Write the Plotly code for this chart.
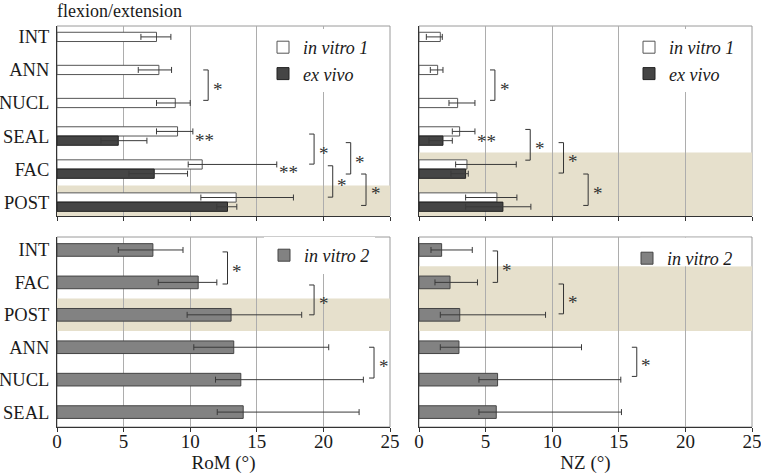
import plotly.graph_objects as go

# ---------------- data ----------------
cats_top = ["INT", "ANN", "NUCL", "SEAL", "FAC", "POST"]
cats_bot = ["INT", "FAC", "POST", "ANN", "NUCL", "SEAL"]

# RoM, top (in vitro 1 / ex vivo)
rom_iv1 = [7.47, 7.65, 8.88, 9.05, 10.9, 13.45]
rom_iv1_lo = [6.3, 6.1, 7.47, 7.47, 9.85, 10.8]
rom_iv1_hi = [8.55, 8.6, 10.0, 10.2, 16.5, 17.75]
rom_ev = [None, None, None, 4.6, 7.3, 12.8]
rom_ev_lo = [None, None, None, 3.3, 5.4, 12.0]
rom_ev_hi = [None, None, None, 6.75, 9.8, 13.5]

# NZ, top (in vitro 1 / ex vivo)
nz_iv1 = [1.6, 1.4, 2.9, 3.05, 3.6, 5.85]
nz_iv1_lo = [0.55, 0.85, 2.25, 2.5, 2.75, 3.5]
nz_iv1_hi = [1.75, 1.8, 4.2, 4.2, 7.3, 7.35]
nz_ev = [None, None, None, 1.8, 3.5, 6.3]
nz_ev_lo = [None, None, None, 0.75, 2.4, 3.5]
nz_ev_hi = [None, None, None, 2.5, 3.7, 8.4]

# in vitro 2 (bottom)
rom_iv2 = [7.2, 10.6, 13.07, 13.27, 13.8, 13.98]
rom_iv2_lo = [4.6, 7.6, 9.77, 10.27, 11.9, 12.03]
rom_iv2_hi = [9.46, 12.0, 18.37, 20.4, 23.0, 22.68]
nz_iv2 = [1.7, 2.33, 3.06, 3.0, 5.9, 5.8]
nz_iv2_lo = [0.9, 1.2, 1.6, 1.6, 4.5, 4.5]
nz_iv2_hi = [4.0, 4.39, 9.5, 12.2, 15.15, 15.2]

x_ticks = [0, 5, 10, 15, 20, 25]

# significance brackets: (x, y_from_index, y_to_index, label)
br_tl = [(11.35, 1.0, 1.92, "*"), (19.3, 2.94, 3.85, "*"), (22.05, 3.2, 4.15, "*"),
         (20.7, 3.9, 4.85, "*"), (23.2, 4.15, 5.1, "*")]
stars_tl = [(11.1, 3.0, "**"), (17.35, 3.97, "**")]
br_tr = [(5.7, 1.0, 1.92, "*"), (8.35, 2.8, 3.73, "*"), (10.85, 3.2, 4.12, "*"),
         (12.7, 4.15, 5.1, "*")]
stars_tr = [(5.05, 3.03, "**")]
br_bl = [(12.8, 0.06, 1.05, "*"), (19.3, 1.08, 2.0, "*"), (23.8, 3.0, 3.95, "*")]
br_br = [(5.9, 0.03, 1.0, "*"), (10.85, 1.05, 1.97, "*"), (16.35, 3.0, 3.9, "*")]

# shaded bands: (from index, to index)
band_tl = (4.5, 5.5)
band_tr = (3.5, 5.5)
band_bl = (1.5, 2.5)
band_br = (0.5, 2.5)

# ---------------- style ----------------
SERIF = "Liberation Serif"
TXT = "#1a1a1a"
W_TOP = 0.28
W_BOT = 0.39
C_WHITE = "white"
C_EV = "#454545"
C_IV2 = "#828282"
BAND = "#e6e0cc"
ERR = "#3a3a3a"


def err(vals, lo, hi):
    plus = [None if v is None else h - v for v, h in zip(vals, hi)]
    minus = [None if v is None else v - l for v, l in zip(vals, lo)]
    return dict(type="data", symmetric=False, array=plus, arrayminus=minus,
                color=ERR, thickness=1, width=3)


fig = go.Figure()

has_ev = [v is not None for v in rom_ev]
off_iv1 = [-W_TOP if h else -W_TOP / 2 for h in has_ev]

panels = [
    ("x", "y", "legend"),
    ("x2", "y2", "legend2"),
    ("x3", "y3", "legend3"),
    ("x4", "y4", "legend4"),
]

# top-left RoM
fig.add_trace(go.Bar(y=cats_top, x=rom_iv1, orientation="h", name="<i>in vitro 1</i>",
                     width=W_TOP, offset=off_iv1, marker=dict(color=C_WHITE, line=dict(color="#555", width=1)),
                     error_x=err(rom_iv1, rom_iv1_lo, rom_iv1_hi), xaxis="x", yaxis="y", legend="legend"))
fig.add_trace(go.Bar(y=cats_top, x=rom_ev, orientation="h", name="<i>ex vivo</i>",
                     width=W_TOP, offset=0, marker=dict(color=C_EV, line=dict(color="#222", width=1)),
                     error_x=err(rom_ev, rom_ev_lo, rom_ev_hi), xaxis="x", yaxis="y", legend="legend"))
# top-right NZ
fig.add_trace(go.Bar(y=cats_top, x=nz_iv1, orientation="h", name="<i>in vitro 1</i>",
                     width=W_TOP, offset=off_iv1, marker=dict(color=C_WHITE, line=dict(color="#555", width=1)),
                     error_x=err(nz_iv1, nz_iv1_lo, nz_iv1_hi), xaxis="x2", yaxis="y2", legend="legend2"))
fig.add_trace(go.Bar(y=cats_top, x=nz_ev, orientation="h", name="<i>ex vivo</i>",
                     width=W_TOP, offset=0, marker=dict(color=C_EV, line=dict(color="#222", width=1)),
                     error_x=err(nz_ev, nz_ev_lo, nz_ev_hi), xaxis="x2", yaxis="y2", legend="legend2"))
# bottom-left RoM in vitro 2
fig.add_trace(go.Bar(y=cats_bot, x=rom_iv2, orientation="h", name="<i>in vitro 2</i>",
                     width=W_BOT, marker=dict(color=C_IV2, line=dict(color="#444", width=1)),
                     error_x=err(rom_iv2, rom_iv2_lo, rom_iv2_hi), xaxis="x3", yaxis="y3", legend="legend3"))
# bottom-right NZ in vitro 2
fig.add_trace(go.Bar(y=cats_bot, x=nz_iv2, orientation="h", name="<i>in vitro 2</i>",
                     width=W_BOT, marker=dict(color=C_IV2, line=dict(color="#444", width=1)),
                     error_x=err(nz_iv2, nz_iv2_lo, nz_iv2_hi), xaxis="x4", yaxis="y4", legend="legend4"))

shapes = []
annotations = []

for (xa, ya, _), band, brs, stars in [
    (panels[0], band_tl, br_tl, stars_tl),
    (panels[1], band_tr, br_tr, stars_tr),
    (panels[2], band_bl, br_bl, []),
    (panels[3], band_br, br_br, []),
]:
    shapes.append(dict(type="rect", xref=xa, yref=ya, x0=0, x1=25, y0=band[0], y1=band[1],
                       fillcolor=BAND, line=dict(width=0), layer="below"))
    shapes.append(dict(type="rect", xref=xa + " domain", yref=ya + " domain", x0=0, x1=1, y0=0, y1=1,
                       line=dict(color="#9a9a9a", width=1), layer="below"))
    for bx, y0, y1, lab in brs:
        for sx0, sx1, sy0, sy1 in [(bx - 0.37, bx, y0, y0), (bx, bx, y0, y1), (bx - 0.37, bx, y1, y1)]:
            shapes.append(dict(type="line", xref=xa, yref=ya, x0=sx0, x1=sx1, y0=sy0, y1=sy1,
                               line=dict(color="#333", width=1), layer="above"))
        annotations.append(dict(x=bx + 0.2, y=(y0 + y1) / 2, xref=xa, yref=ya, text=lab, showarrow=False,
                                xanchor="left", yanchor="middle", yshift=-4,
                                font=dict(family=SERIF, size=19, color="#333333")))
    for sx, sy, lab in stars:
        annotations.append(dict(x=sx, y=sy, xref=xa, yref=ya, text=lab, showarrow=False,
                                xanchor="center", yanchor="middle", yshift=-4,
                                font=dict(family=SERIF, size=19, color="#333333")))

# white patch keeping the 20-gridline hidden behind the bottom-right legend
shapes.append(dict(type="rect", xref="x4", yref="y4", x0=16.6, x1=24.9, y0=-0.38, y1=band_br[0],
                   fillcolor="white", line=dict(width=0), layer="between"))

XD_L = [57 / 761, 390 / 761]
XD_R = [419 / 761, 752 / 761]
YD_T = [258 / 474, 448 / 474]
YD_B = [47 / 474, 237 / 474]

axis_x = dict(range=[0, 25], tickvals=x_ticks, showgrid=True, gridcolor="#adadad", gridwidth=1,
              showline=True, linecolor="#333", linewidth=1, ticks="outside", ticklen=4, tickcolor="#333",
              zeroline=False, tickfont=dict(family=SERIF, size=19, color=TXT), fixedrange=True,
              automargin=False, ticklabelstandoff=-7, ticklabeloverflow="allow")
axis_y = dict(type="category", showgrid=False, showline=True, linecolor="#333", linewidth=1,
              ticks="", zeroline=False, tickfont=dict(family=SERIF, size=18.5, color=TXT),
              ticklabelstandoff=3, fixedrange=True, automargin=False, ticklabeloverflow="allow")

legend_common = dict(bgcolor="white", borderwidth=0, font=dict(family=SERIF, size=18, color=TXT),
                     xanchor="left", yanchor="top", tracegroupgap=0, itemclick=False)

fig.update_layout(
    width=761, height=474,
    margin=dict(l=0, r=0, t=0, b=0),
    paper_bgcolor="white", plot_bgcolor="white",
    barmode="overlay",
    title=dict(text="flexion/extension", x=57 / 761, xanchor="left", xref="paper",
               y=1 - 11 / 474, yanchor="middle", automargin=False,
               font=dict(family=SERIF, size=18, color=TXT)),
    xaxis=dict(axis_x, domain=XD_L, anchor="y", showticklabels=False),
    yaxis=dict(axis_y, domain=YD_T, anchor="x", range=[5.42, -0.33], categoryorder="array", categoryarray=cats_top),
    xaxis2=dict(axis_x, domain=XD_R, anchor="y2", showticklabels=False),
    yaxis2=dict(axis_y, domain=YD_T, anchor="x2", range=[5.42, -0.33], categoryorder="array", categoryarray=cats_top,
                showticklabels=False),
    xaxis3=dict(axis_x, domain=XD_L, anchor="y3",
                title=dict(text="RoM (°)", font=dict(family=SERIF, size=19, color=TXT), standoff=10)),
    yaxis3=dict(axis_y, domain=YD_B, anchor="x3", range=[5.46, -0.4], categoryorder="array", categoryarray=cats_bot),
    xaxis4=dict(axis_x, domain=XD_R, anchor="y4",
                title=dict(text="NZ (°)", font=dict(family=SERIF, size=19, color=TXT), standoff=10)),
    yaxis4=dict(axis_y, domain=YD_B, anchor="x4", range=[5.46, -0.4], categoryorder="array", categoryarray=cats_bot,
                showticklabels=False),
    legend=dict(legend_common, x=263 / 761, y=1 - 29 / 474),
    legend2=dict(legend_common, x=629 / 761, y=1 - 29 / 474),
    legend3=dict(legend_common, x=264 / 761, y=1 - 237 / 474),
    legend4=dict(legend_common, x=627 / 761, y=1 - 240 / 474, bgcolor="rgba(0,0,0,0)"),
    shapes=shapes,
    annotations=annotations,
)

fig.write_html("out.html", config={"displayModeBar": False},
               post_script="document.body.style.margin='0';document.body.style.padding='0';")
